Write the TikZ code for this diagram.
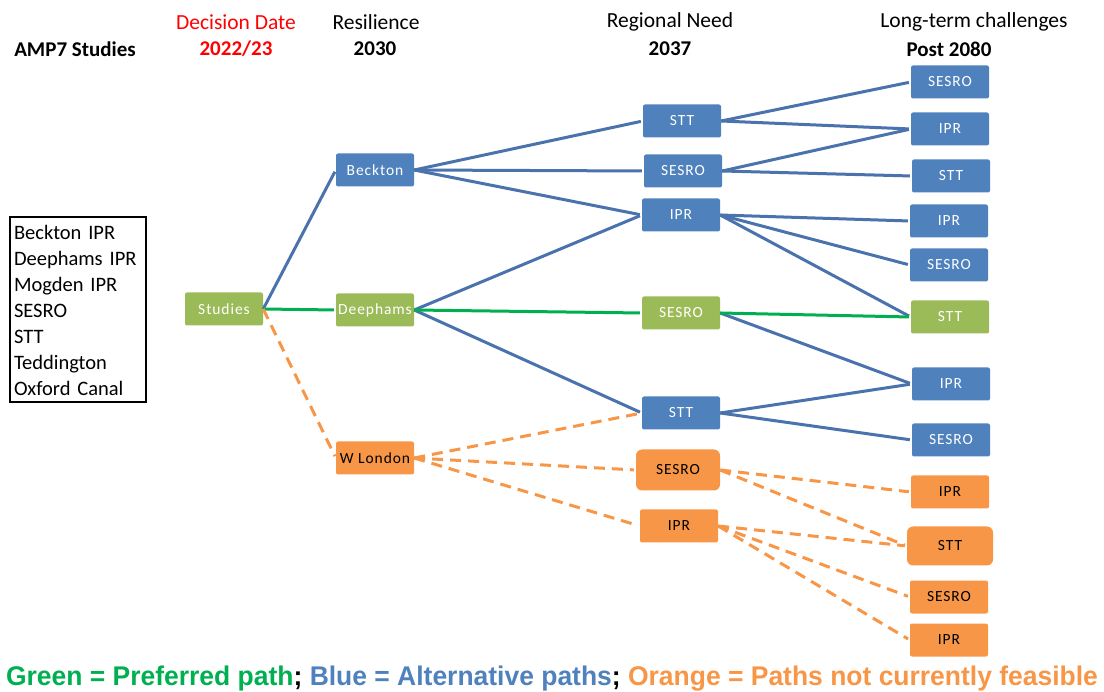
\documentclass[tikz,border=0pt]{standalone}
\usepackage{fontspec}
\setmainfont{Carlito}
\newfontfamily\boxfont[LetterSpace=6]{Carlito}
\newfontfamily\keyfont[FakeStretch=0.98]{Liberation Sans}
\usetikzlibrary{positioning}
\definecolor{boxblue}{HTML}{4F81BD}
\definecolor{boxgreen}{HTML}{9BBB59}
\definecolor{boxorange}{HTML}{F79646}
\definecolor{lineblue}{HTML}{4A72AC}
\definecolor{linegreen}{HTML}{00B050}
\definecolor{datered}{HTML}{FF0000}
\tikzset{box/.style={rectangle,rounded corners=2pt,minimum width=78pt,minimum height=33pt,inner sep=1pt,font=\boxfont\fontsize{15.5}{17}\selectfont}}
\tikzset{bluebox/.style={box,fill=boxblue,text=white}}
\tikzset{greenbox/.style={box,fill=boxgreen,text=white}}
\tikzset{orangebox/.style={box,fill=boxorange,text=black}}
\tikzset{altpath/.style={draw=lineblue,line width=3pt,shorten >=2pt}}
\tikzset{prefpath/.style={draw=linegreen,line width=3pt,shorten >=2pt}}
\tikzset{nopath/.style={draw=boxorange,line width=3pt,dash pattern=on 11pt off 7pt,shorten >=2pt}}
\tikzset{head/.style={font=\fontsize{21.5}{24}\selectfont}}
\tikzset{year/.style={font=\bfseries\fontsize{21}{24}\selectfont}}

\begin{document}
\begin{tikzpicture}[x=1pt,y=-1pt]
\useasboundingbox (0,0) rectangle (1104,692);

% column headings
\node[year] (amp) at (75,49) {AMP7 Studies};
\node[head,text=datered] (dec) at (236,22) {Decision Date};
\node[year,text=datered] (decy) at (236,49) {2022/23};
\node[head] (res) at (376,22) {Resilience};
\node[year] (resy) at (375,49) {2030};
\node[head] (reg) at (670,22) {Regional Need};
\node[year] (regy) at (670,49) {2037};
\node[head] (lt) at (974,22) {Long-term challenges};
\node[year] (lty) at (949,49) {Post 2080};

% list of studies
\node[draw,line width=2pt,minimum width=136pt,minimum height=185pt,text width=128pt,align=left,inner sep=3pt,font=\fontsize{20.5}{26}\selectfont] (list) at (78,310)
 {Beckton IPR\\Deephams IPR\\Mogden IPR\\SESRO\\STT\\Teddington\\Oxford Canal};

% 2022/23 and 2030
\node[greenbox] (studies) at (224,309) {Studies};
\node[bluebox] (beckton) at (375,170) {Beckton};
\node[greenbox] (deephams) at (375,310) {Deephams};
\node[orangebox] (wlondon) at (375,458) {W London};

% 2037
\node[bluebox] (rSTT) at (682,121) {STT};
\node[bluebox] (rSESRO) at (683,171) {SESRO};
\node[bluebox] (rIPR) at (681,215) {IPR};
\node[greenbox] (rSESROg) at (681,313) {SESRO};
\node[bluebox] (rSTTb) at (681,413) {STT};
\node[orangebox,minimum width=84pt,minimum height=41pt,rounded corners=6pt] (rSESROo) at (678,470) {SESRO};
\node[orangebox] (rIPRo) at (679,526) {IPR};

% post 2080
\node[bluebox] (l1) at (950,82) {SESRO};
\node[bluebox] (l2) at (950,129) {IPR};
\node[bluebox] (l3) at (951,176) {STT};
\node[bluebox] (l4) at (949,221) {IPR};
\node[bluebox] (l5) at (949,265) {SESRO};
\node[greenbox] (l6) at (950,317) {STT};
\node[bluebox] (l7) at (951,384) {IPR};
\node[bluebox] (l8) at (951,440) {SESRO};
\node[orangebox] (l9) at (950,492) {IPR};
\node[orangebox,minimum width=86pt,minimum height=39pt,rounded corners=6pt] (l10) at (950,546) {STT};
\node[orangebox] (l11) at (949,597) {SESRO};
\node[orangebox] (l12) at (949,640) {IPR};

% paths
\foreach \a/\b in {studies/beckton,beckton/rSTT,beckton/rSESRO,beckton/rIPR,deephams/rIPR,deephams/rSTTb,
  rSTT/l1,rSTT/l2,rSESRO/l2,rSESRO/l3,rIPR/l4,rIPR/l5,rIPR/l6,rSESROg/l7,rSTTb/l7,rSTTb/l8}
  \draw[altpath] (\a.east) -- (\b.west);
\foreach \a/\b in {studies/deephams,deephams/rSESROg,rSESROg/l6}
  \draw[prefpath] (\a.east) -- (\b.west);
\foreach \a/\b in {studies/wlondon,wlondon/rSTTb,wlondon/rSESROo,wlondon/rIPRo,
  rSESROo/l9,rSESROo/l10,rIPRo/l10,rIPRo/l11,rIPRo/l12}
  \draw[nopath] (\a.east) -- (\b.west);

% key
\node[font=\keyfont\bfseries\fontsize{27}{30}\selectfont] (key) at (552,679)
 {\textcolor{linegreen}{Green = Preferred path}; \textcolor{boxblue}{Blue = Alternative paths}; \textcolor{boxorange}{Orange = Paths not currently feasible}};
\end{tikzpicture}
\end{document}
